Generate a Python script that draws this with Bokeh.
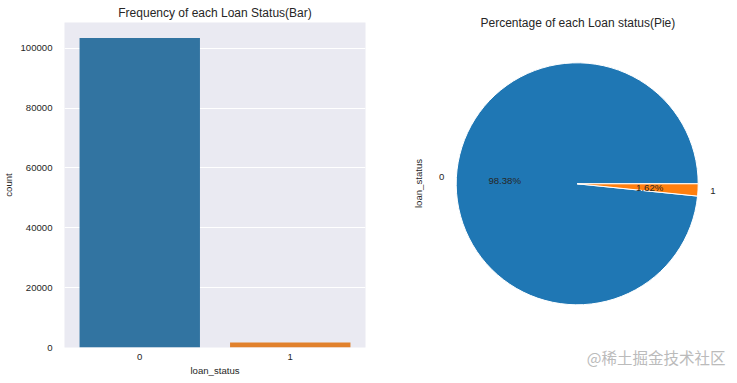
import math
from bokeh.plotting import figure
from bokeh.layouts import row
from bokeh.models import Range1d, SingleIntervalTicker, NumeralTickFormatter, ColumnDataSource, Title
from bokeh.core.properties import value
from bokeh.embed import file_html
from bokeh.resources import INLINE

# ---- data ----
categories = ["0", "1"]
counts = [103430, 1703]
bar_colors = ["#3274a1", "#e1812c"]
pie_colors = ["#1f77b4", "#ff7f0e"]
pct_labels = ["98.38%", "1.62%"]
y_ticks_interval = 20000

FONT = "Liberation Sans"
TXT = "#262626"
H = 380

# ---- left: bar chart ----
p1 = figure(width=370, height=H, x_range=categories,
            y_range=Range1d(0, max(counts) * 1.05),
            output_backend="svg", toolbar_location=None,
            min_border_left=61, min_border_right=5,
            min_border_top=22, min_border_bottom=33)
src = ColumnDataSource(dict(x=categories, top=counts, color=bar_colors))
p1.vbar(x="x", top="top", width=0.8, color="color", source=src, line_color=None)
p1.background_fill_color = "#eaeaf2"
p1.border_fill_color = "white"
p1.outline_line_color = None
p1.xgrid.grid_line_color = None
p1.ygrid.grid_line_color = "white"
p1.ygrid.grid_line_width = 1
p1.yaxis.ticker = SingleIntervalTicker(interval=y_ticks_interval)
p1.yaxis.formatter = NumeralTickFormatter(format="0")
for ax in (p1.xaxis, p1.yaxis):
    ax.axis_line_color = None
    ax.major_tick_line_color = None
    ax.minor_tick_line_color = None
    ax.major_tick_out = 0
    ax.major_tick_in = 0
    ax.major_label_text_font = FONT
    ax.major_label_text_font_size = "9.6px"
    ax.major_label_text_color = TXT
    ax.axis_label_text_font = FONT
    ax.axis_label_text_font_size = "9.6px"
    ax.axis_label_text_font_style = "normal"
    ax.axis_label_text_color = TXT
p1.xaxis.axis_label = "loan_status"
p1.yaxis.axis_label = "count"
p1.yaxis.major_label_standoff = 8
p1.yaxis.axis_label_standoff = 3
p1.xaxis.major_label_standoff = 6
p1.xaxis.axis_label_standoff = 2
p1.title.text = "Frequency of each Loan Status(Bar)"
p1.title.align = "center"
p1.title.text_font = FONT
p1.title.text_font_size = "12px"
p1.title.text_font_style = "normal"
p1.title.text_color = TXT
p1.title.standoff = 5

# ---- right: pie chart ----
# frames of figures in a row are aligned: frame spans page y 22..347
W2 = 359
p2 = figure(width=W2, height=H, x_range=Range1d(0, W2), y_range=Range1d(H - 347, H - 22),
            output_backend="svg", toolbar_location=None, min_border=0,
            x_axis_type=None, y_axis_type=None)
p2.grid.grid_line_color = None
p2.outline_line_color = None
p2.background_fill_color = "white"
p2.border_fill_color = "white"

cx, cy, R = 206.7, H - 183.3, 121
total = sum(counts)
fracs = [c / total for c in counts]
starts, ends = [], []
acc = 0.0
for f in fracs:
    starts.append(2 * math.pi * acc)
    acc += f
    ends.append(2 * math.pi * acc)
p2.wedge(x=cx, y=cy, radius=R, start_angle=starts, end_angle=ends,
         direction="anticlock", fill_color=pie_colors, line_color="white", line_width=1)

mids = [(s + e) / 2 for s, e in zip(starts, ends)]
lx = [cx + 1.1 * R * math.cos(m) for m in mids]
ly = [cy + 1.1 * R * math.sin(m) for m in mids]
lal = ["left" if math.cos(m) > 0 else "right" for m in mids]
p2.text(x=lx, y=ly, text=categories, text_align=lal, text_baseline="middle",
        text_font=value(FONT), text_font_size="9.6px", text_color=TXT)
px = [cx + 0.6 * R * math.cos(m) for m in mids]
py = [cy + 0.6 * R * math.sin(m) for m in mids]
p2.text(x=px, y=py, text=pct_labels, text_align="center", text_baseline="middle",
        text_font=value(FONT), text_font_size="9.6px", text_color=TXT)

p2.text(x=[47.7], y=[H - 183], text=["loan_status"], angle=math.pi / 2,
        text_align="center", text_baseline="middle",
        text_font=value(FONT), text_font_size="9.6px", text_color=TXT)

p2.title.text = "Percentage of each Loan status(Pie)"
p2.title.align = "left"
p2.title.offset = 110
p2.title.standoff = -14
p2.title.text_font = FONT
p2.title.text_font_size = "12px"
p2.title.text_font_style = "normal"
p2.title.text_color = TXT

p2.add_layout(Title(text="@稀土掘金技术社区", align="right", offset=4, standoff=-4,
                    vertical_align="top",
                    text_font="Noto Sans CJK SC", text_font_size="15.5px",
                    text_font_style="normal", text_color="#bbbbbb"), "below")

layout = row(p1, p2)
open("out.html", "w").write(file_html(layout, INLINE))
